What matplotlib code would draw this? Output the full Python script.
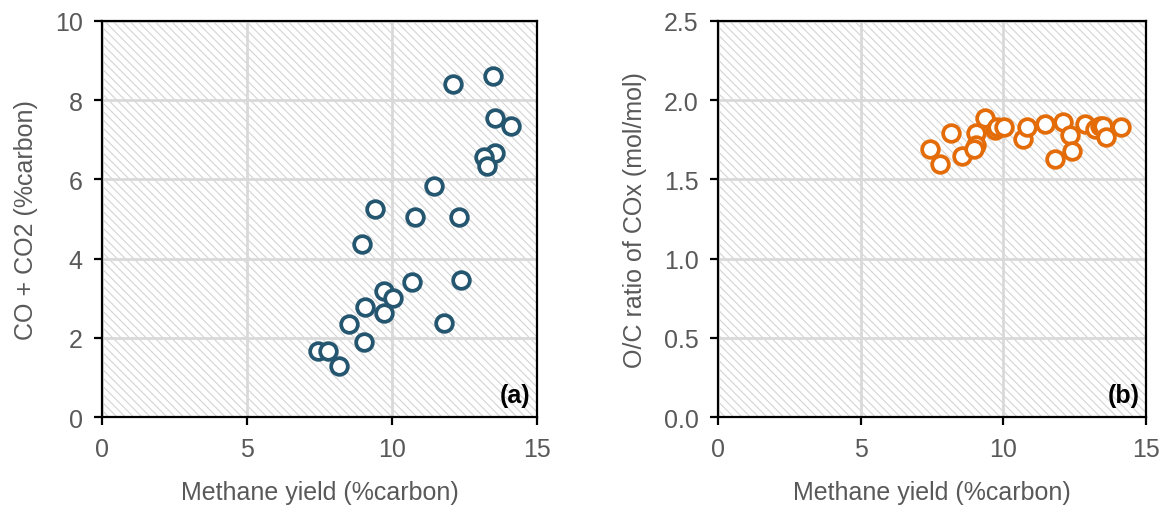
import matplotlib.pyplot as plt
from matplotlib.patches import Rectangle

plt.rcParams["font.family"] = ["Liberation Sans", "DejaVu Sans"]
plt.rcParams["hatch.linewidth"] = 0.8

# panel (a): methane yield vs CO + CO2
yield_a = [12.09, 13.50, 13.56, 14.11, 13.56, 13.18, 13.28, 11.46, 9.40, 10.80,
           12.32, 8.95, 10.68, 12.39, 9.71, 10.02, 9.06, 9.74, 8.52, 11.81,
           9.03, 7.45, 7.81, 8.16]
cox_a = [8.41, 8.61, 7.55, 7.35, 6.67, 6.57, 6.34, 5.84, 5.25, 5.06,
         5.06, 4.37, 3.42, 3.45, 3.18, 3.02, 2.79, 2.64, 2.35, 2.37,
         1.89, 1.66, 1.68, 1.28]

# panel (b): methane yield vs O/C ratio
yield_b = [7.43, 7.78, 8.16, 8.54, 9.04, 9.04, 8.98, 9.37, 9.71, 9.77,
           10.04, 10.68, 10.82, 11.47, 11.81, 12.08, 12.34, 12.42, 12.86, 13.21,
           13.40, 13.50, 13.59, 14.11]
oc_b = [1.69, 1.60, 1.79, 1.65, 1.79, 1.72, 1.69, 1.89, 1.81, 1.83,
        1.83, 1.755, 1.83, 1.85, 1.63, 1.86, 1.78, 1.68, 1.85, 1.82,
        1.84, 1.84, 1.77, 1.83]

grey = "#595959"

fig = plt.figure(figsize=(11.66, 5.10), dpi=100)
ax1 = fig.add_axes([0.0875, 0.180, 0.373, 0.777])
ax2 = fig.add_axes([0.6158, 0.180, 0.367, 0.777])


def style(ax, ymax, ystep, yfmt, ylabel, tag):
    ax.add_patch(Rectangle((0, 0), 1, 1, transform=ax.transAxes, facecolor="white",
                           edgecolor="#d4d4d4", lw=0, hatch="\\\\\\\\", zorder=0))
    ax.set_xlim(0, 15)
    ax.set_ylim(0, ymax)
    ax.set_xticks([0, 5, 10, 15])
    yt = [i * ystep for i in range(int(round(ymax / ystep)) + 1)]
    ax.set_yticks(yt)
    ax.set_yticklabels([yfmt.format(v) for v in yt])
    ax.grid(True, color="#d9d9d9", lw=2)
    ax.set_axisbelow(True)
    for s in ax.spines.values():
        s.set_color("black")
        s.set_linewidth(1.6)
        s.set_zorder(3)
    ax.tick_params(direction="out", length=6, width=1.6, colors="black",
                   labelcolor=grey, labelsize=18, pad=8)
    ax.set_xlabel("Methane yield (%carbon)", fontsize=18, color=grey, labelpad=14)
    ax.set_ylabel(ylabel, fontsize=18, color=grey, labelpad=12)
    ax.text(0.985, 0.025, tag, transform=ax.transAxes, ha="right", va="bottom",
            fontsize=18, fontweight="bold", color="black")


style(ax1, 10, 2, "{:.0f}", "CO + CO2 (%carbon)", "(a)")
style(ax2, 2.5, 0.5, "{:.1f}", "O/C ratio of COx (mol/mol)", "(b)")

ax1.plot(yield_a, cox_a, "o", ms=12, mfc="white", mec="#25566f", mew=2.7, zorder=4)
ax2.plot(yield_b, oc_b, "o", ms=12, mfc="white", mec="#e36c09", mew=2.7, zorder=4)

fig.savefig("out.png", dpi=100)
